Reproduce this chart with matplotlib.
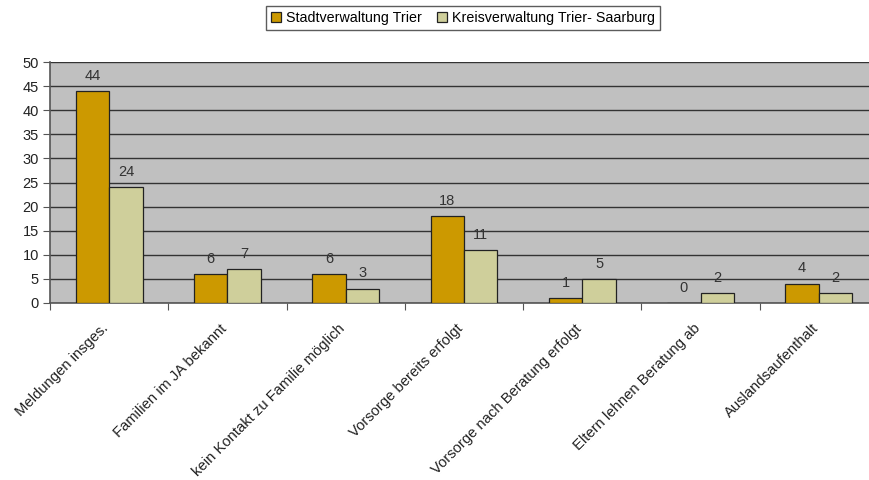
import matplotlib
matplotlib.use("Agg")
import matplotlib.pyplot as plt
import matplotlib.transforms as mtransforms
import numpy as np

categories = ["Meldungen insges.", "Familien im JA bekannt", "kein Kontakt zu Familie möglich",
              "Vorsorge bereits erfolgt", "Vorsorge nach Beratung erfolgt",
              "Eltern lehnen Beratung ab", "Auslandsaufenthalt"]
stadt = [44, 6, 6, 18, 1, 0, 4]
kreis = [24, 7, 3, 11, 5, 2, 2]
series_names = ["Stadtverwaltung Trier", "Kreisverwaltung Trier- Saarburg"]
yticks = [0, 5, 10, 15, 20, 25, 30, 35, 40, 45, 50]

plt.rcParams['font.family'] = ['Liberation Sans', 'DejaVu Sans']
fig = plt.figure(figsize=(8.69, 4.8), dpi=100)
W, H = 869, 480
ax = fig.add_axes([50 / W, (H - 303) / H, 828 / W, 241 / H])
ax.set_facecolor('#C0C0C0')

x = np.arange(len(categories))
bw = 0.283
c1, c2 = '#CC9900', '#CFCF9B'
b1 = ax.bar(x - bw / 2, stadt, bw, color=c1, edgecolor='#222222', linewidth=0.9, zorder=3, label=series_names[0])
b2 = ax.bar(x + bw / 2, kreis, bw, color=c2, edgecolor='#222222', linewidth=0.9, zorder=3, label=series_names[1])
for bars, vals in ((b1, stadt), (b2, kreis)):
    for r, v in zip(bars, vals):
        ax.annotate(str(v), (r.get_x() + r.get_width() / 2, v), xytext=(0, 6), textcoords='offset points',
                    ha='center', va='bottom', fontsize=10.5, color='#333333')

ax.set_xlim(-0.5, len(categories) - 0.5)
ax.set_ylim(0, 50)
ax.set_yticks(yticks)
ax.yaxis.grid(True, color='#333333', linewidth=1.0, zorder=1)
ax.set_axisbelow(True)
ax.tick_params(axis='y', direction='out', length=5, color='#555555', labelsize=10.5, labelcolor='#222222', pad=3)
ax.set_xticks(np.arange(len(categories) + 1) - 0.5)
ax.set_xticklabels([])
ax.set_xticks(x, minor=True)
ax.set_xticklabels(categories, minor=True, rotation=45, ha='right', va='center_baseline', rotation_mode='anchor',
                   fontsize=10.6, color='#222222')
ax.tick_params(axis='x', which='major', direction='out', length=5, color='#555555')
ax.tick_params(axis='x', which='minor', length=0, pad=16)
offset = mtransforms.ScaledTranslation(-4 / 100, 0, fig.dpi_scale_trans)
for lbl in ax.get_xticklabels(minor=True):
    lbl.set_transform(lbl.get_transform() + offset)
for s in ['top', 'right']:
    ax.spines[s].set_visible(False)
for s in ['left', 'bottom']:
    ax.spines[s].set_color('#555555')
    ax.spines[s].set_linewidth(1.2)

leg = fig.legend(handles=[b1, b2], loc='center', bbox_to_anchor=(463 / W, (H - 18) / H), ncol=2,
                 frameon=True, fancybox=False, edgecolor='#333333', fontsize=10.3,
                 handlelength=0.7, handleheight=0.7, handletextpad=0.4, columnspacing=1.0,
                 borderpad=0.35)
leg.get_frame().set_linewidth(1.0)

fig.savefig('out.png', dpi=100)
